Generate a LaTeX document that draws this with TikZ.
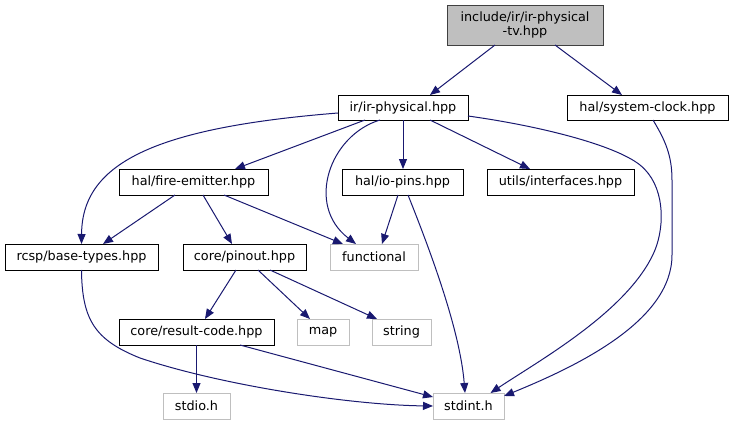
\documentclass[tikz,border=0pt]{standalone}
\usepackage{fontspec}
\setmainfont{DejaVu Sans}
\usetikzlibrary{arrows.meta,calc}
\definecolor{edgec}{HTML}{191970}
\definecolor{grayc}{HTML}{BFBFBF}
\definecolor{darkb}{HTML}{404040}
\begin{document}
\begin{tikzpicture}[x=0.75pt,y=-0.75pt,
  every node/.style={font=\fontsize{9.6}{11}\selectfont, inner sep=0pt, outer sep=0pt, align=center},
  box/.style={draw=black, line width=0.75pt, rectangle, fill=white, minimum height=19.5pt},
  ext/.style={draw=grayc, line width=0.75pt, rectangle, fill=white, minimum height=19.5pt},
  edge/.style={draw=edgec, line width=0.75pt, -{Triangle[length=7.5pt,width=6pt]}}]
\useasboundingbox (0,0) rectangle (733,425);
% nodes
\node[draw=darkb, line width=0.75pt, fill=grayc, minimum width=117pt, minimum height=30pt] (top) at (525,25) {include/ir/ir-physical\\-tv.hpp};
\node[box, minimum width=97.5pt, minimum height=18.75pt] (irphys) at (403,107.5) {ir/ir-physical.hpp};
\node[box, minimum width=120.75pt, minimum height=18.75pt] (sysclock) at (647.5,107.5) {hal/system-clock.hpp};
\node[box, minimum width=111.75pt] (fire) at (193.5,182) {hal/fire-emitter.hpp};
\node[box, minimum width=90.75pt] (iopins) at (402.5,182) {hal/io-pins.hpp};
\node[box, minimum width=110.25pt] (utils) at (560.5,182) {utils/interfaces.hpp};
\node[box, minimum width=114.75pt] (base) at (81.5,257) {rcsp/base-types.hpp};
\node[box, minimum width=92.25pt] (pinout) at (244.5,257) {core/pinout.hpp};
\node[ext, minimum width=66pt] (functional) at (374,257) {functional};
\node[box, minimum width=116.25pt] (result) at (196.5,332) {core/result-code.hpp};
\node[ext, minimum width=39pt] (map) at (323,332) {map};
\node[ext, minimum width=44.25pt] (string) at (401.5,332) {string};
\node[ext, minimum width=50.25pt] (stdio) at (196.5,406) {stdio.h};
\node[ext, minimum width=53.25pt] (stdint) at (468.5,406) {stdint.h};
% edges
\draw[edge] ($(top.south)+(-30,0)$) -- ($(irphys.north)+(27,0)$);
\draw[edge] ($(top.south)+(30,0)$) -- ($(sysclock.north)+(-25.5,0)$);
\draw[edge] ($(irphys.west)+(0,5.5)$) .. controls (150,128) and (82,165) .. (base.north);
\draw[edge] ($(irphys.south)+(-38,0)$) -- ($(fire.north)+(41.5,0)$);
\draw[edge] ($(irphys.south)+(-23,0)$) .. controls (330,135) and (305,205) .. ($(functional.north)+(-18,0)$);
\draw[edge] (irphys.south) -- (irphys.south |- iopins.north);
\draw[edge] ($(irphys.south)+(27,0)$) -- ($(utils.north)+(-30.5,0)$);
\draw[edge] ($(irphys.east)+(0,8.5)$) .. controls (540,126) and (615,145) .. (640,165)
  .. controls (665,185) and (665,225) .. (655,250)
  .. controls (630,310) and (540,360) .. ($(stdint.north)+(22,0)$);
\draw[edge] ($(sysclock.south)+(5.5,0)$) .. controls (665,140) and (672,155) .. (672,180)
  -- (672,255) .. controls (672,320) and (580,365) .. ($(stdint.north east)+(0,3)$);
\draw[edge] ($(fire.south)+(-18.5,0)$) -- ($(base.north)+(21.5,0)$);
\draw[edge] ($(fire.south)+(9.5,0)$) -- ($(pinout.north)+(-12.5,0)$);
\draw[edge] ($(fire.south)+(30.5,0)$) -- ($(functional.north)+(-31,0)$);
\draw[edge] ($(iopins.south)+(-4.5,0)$) -- ($(functional.north)+(8,0)$);
\draw[edge] ($(iopins.south)+(5.5,0)$) .. controls (430,250) and (460,330) .. ($(stdint.north)+(-3.5,0)$);
\draw[edge] (base.south) .. controls (82,320) and (95,340) .. (140,358)
  .. controls (220,385) and (350,405) .. (stdint.west);
\draw[edge] ($(pinout.south)+(-8.5,0)$) -- ($(result.north)+(8.5,0)$);
\draw[edge] ($(pinout.south)+(13.5,0)$) -- ($(map.north)+(-13,0)$);
\draw[edge] ($(pinout.south)+(25.5,0)$) -- ($(string.north)+(-24.5,0)$);
\draw[edge] (result.south) -- (result.south |- stdio.north);
\draw[edge] ($(result.south)+(43.5,0)$) -- ($(stdint.north west)+(0,4)$);
\end{tikzpicture}
\end{document}
